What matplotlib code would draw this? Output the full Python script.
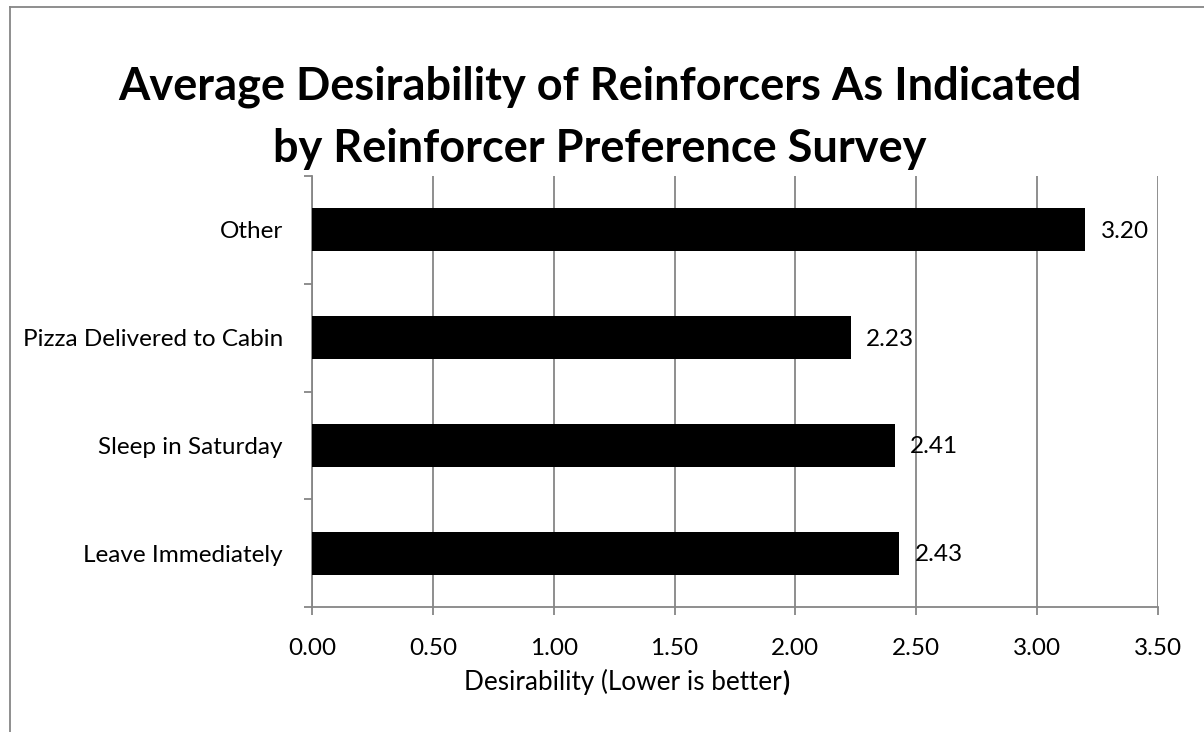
import matplotlib
matplotlib.use("Agg")
import matplotlib.pyplot as plt
import numpy as np

# data
categories = ["Leave Immediately", "Sleep in Saturday", "Pizza Delivered to Cabin", "Other"]
desirability = [2.43, 2.41, 2.23, 3.20]
xticks = [0.0, 0.5, 1.0, 1.5, 2.0, 2.5, 3.0, 3.5]

title = "Average Desirability of Reinforcers As Indicated\nby Reinforcer Preference Survey"

plt.rcParams["font.family"] = ["Lato", "DejaVu Sans"]
grey = "#868686"
fs = 17.5

fig = plt.figure(figsize=(12.04, 7.32), dpi=100)
ax = fig.add_axes([312 / 1204, 1 - 607 / 732, (1158 - 312) / 1204, (607 - 176) / 732])

y = np.arange(len(categories))
ax.barh(y, desirability, height=0.4, color="black", zorder=3)

for yi, v in zip(y, desirability):
    ax.annotate("{:.2f}".format(v), xy=(v, yi), xytext=(11, -1), textcoords="offset points",
                va="center", ha="left", fontsize=fs, zorder=4)

ax.set_xlim(0, 3.5)
ax.set_ylim(-0.5, len(categories) - 0.5)
ax.set_xticks(xticks)
ax.set_xticklabels(["{:.2f}".format(t) for t in xticks], fontsize=fs)
ax.set_yticks(y)
ax.set_yticklabels(categories, fontsize=fs)
ax.set_yticks(np.arange(len(categories) + 1) - 0.5, minor=True)

ax.tick_params(axis="y", which="major", length=0, pad=21)
ax.tick_params(axis="y", which="minor", length=6, width=1.3, color=grey)
ax.tick_params(axis="x", which="major", length=6, width=1.3, color=grey, pad=16)

ax.grid(axis="x", color=grey, linewidth=1.3, zorder=0)
for side in ["top", "right"]:
    ax.spines[side].set_visible(False)
for side in ["left", "bottom"]:
    ax.spines[side].set_color(grey)
    ax.spines[side].set_linewidth(1.3)

fig.text(600 / 1204, 1 - 118 / 732, title, ha="center", va="center", fontsize=32.5,
         fontweight="bold", linespacing=1.6)

lbl = fig.text(623 / 1204, 1 - 682 / 732, "Desirability (Lower is better", ha="center",
               va="center", fontsize=18.8)
ax.annotate(")", xy=(1, 0.5), xycoords=lbl, va="center", ha="left", fontsize=18.8,
            fontweight="bold")

# chart border (left and top edge visible in the reference)
fig.add_artist(plt.Line2D([10 / 1204, 10 / 1204], [0, 1 - 7 / 732], color=grey,
                          linewidth=1.3, transform=fig.transFigure))
fig.add_artist(plt.Line2D([10 / 1204, 1], [1 - 7 / 732, 1 - 7 / 732], color=grey,
                          linewidth=1.3, transform=fig.transFigure))

fig.savefig("out.png", dpi=100)
